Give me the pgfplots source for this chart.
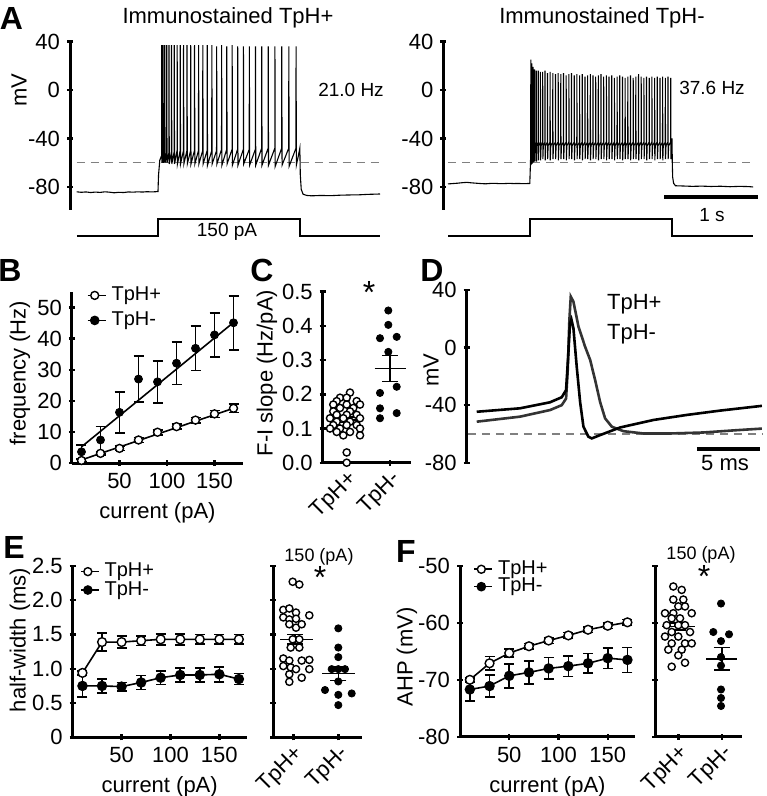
\documentclass[border=0pt]{standalone}
\usepackage{fontspec}
\setmainfont{Liberation Sans}
\usepackage{pgfplots}
\pgfplotsset{compat=1.18}
\newcommand{\fs}[1]{\fontsize{#1}{#1}\selectfont}
\pgfplotsset{
  panel/.style={
    scale only axis, clip=false, anchor=south west,
    major tick style={black, line width=1.2pt},
    major tick length=3pt, tick align=outside,
    tick label style={font=\fs{11}},
    label style={font=\fs{11}},
    /pgf/number format/assume math mode=true,
  },
  na/.style={axis line style={-, line width=1.5pt}},
  errb/.style={error bars/.cd, y dir=both, y explicit,
    error bar style={line width=0.8pt, black},
    error mark options={rotate=90, line width=0.8pt, mark size=2.5pt, black}},
  semb/.style={error bars/.cd, y dir=both, y explicit,
    error bar style={line width=0.8pt, black},
    error mark options={rotate=90, line width=0.8pt, mark size=4pt, black}},
  opn/.style={only marks, mark=*, mark size=1.8pt, mark options={fill=white, draw=black, line width=0.7pt}},
  fil/.style={only marks, mark=*, mark size=1.8pt, mark options={fill=black, draw=black}},
  lgd/.style={legend style={draw=none, fill=none, font=\fs{10}, anchor=north west, inner sep=0pt,
      nodes={text height=6.5pt, text depth=1.5pt, inner sep=0.5pt}, cells={anchor=west},
      /tikz/every odd column/.append style={column sep=2pt}},
    legend image code/.code={\draw[##1] (0pt,0pt) -- (9pt,0pt); \draw[##1, only marks] plot coordinates {(3.5pt,0pt)};}},
}
\begin{document}
\begin{tikzpicture}
\useasboundingbox (0,0) rectangle (383pt,-398pt);

% ---------- A left: TpH+ train ----------
\begin{axis}[panel, at={(35pt,-105pt)}, width=155pt, height=84.25pt,
  axis x line=none, axis y line=left,
  xmin=-0.07, xmax=3.228, ymin=-99, ymax=40,
  ytick={-80,-40,0,40}, na]
\addplot[gray, line width=0.6pt, dash pattern=on 4pt off 3pt] coordinates {(0,-60)(3.228,-60)};
\addplot[black, line width=0.55pt] coordinates {
(0,-84)(0.05,-84.4)(0.1,-84.1)(0.15,-84.6)(0.2,-84.2)(0.25,-84.5)(0.3,-84.0)(0.35,-84.3)(0.4,-84.8)(0.45,-84.4)
(0.5,-84.6)(0.55,-84.1)(0.6,-84.3)(0.65,-84.0)(0.7,-84.2)(0.75,-83.9)(0.8,-84.1)(0.866,-83.8)
(0.872,-70)(0.885,-58)(0.9,-55)
(0.905,-54)(0.906,37)(0.909,-60)
(0.919,-54)(0.920,37)(0.923,-60)
(0.937,-53)(0.938,37)(0.941,-60)
(0.958,-52)(0.959,37)(0.962,-60)
(0.982,-52)(0.983,37)(0.986,-61)
(1.009,-51)(1.010,37)(1.013,-61)
(1.038,-51)(1.039,37)(1.042,-61)
(1.069,-50)(1.070,37)(1.073,-61)
(1.102,-50)(1.103,37)(1.106,-61)
(1.137,-50)(1.138,37)(1.141,-61)
(1.174,-50)(1.175,37)(1.178,-61)
(1.213,-50)(1.214,37)(1.217,-61)
(1.254,-50)(1.255,37)(1.258,-61)
(1.297,-50)(1.298,37)(1.301,-61)
(1.342,-50)(1.343,37)(1.346,-61)
(1.389,-50)(1.390,37)(1.393,-62)
(1.438,-50)(1.439,37)(1.442,-61)
(1.489,-50)(1.490,36)(1.493,-61)
(1.542,-49)(1.543,37)(1.546,-62)
(1.597,-49)(1.598,36)(1.601,-61)
(1.654,-49)(1.655,37)(1.658,-62)
(1.713,-49)(1.714,36)(1.717,-62)
(1.774,-49)(1.775,36)(1.778,-61)
(1.837,-49)(1.838,36)(1.841,-62)
(1.902,-49)(1.903,36)(1.906,-62)
(1.969,-48)(1.970,36)(1.973,-62)
(2.038,-48)(2.039,36)(2.042,-62)
(2.109,-48)(2.110,36)(2.113,-63)
(2.182,-48)(2.183,36)(2.186,-62)
(2.257,-48)(2.258,36)(2.261,-63)
(2.334,-48)(2.335,36)(2.338,-62)
(2.36,-54)(2.375,-48)(2.38,-70)(2.39,-82)(2.41,-86)(2.45,-87)(2.5,-87.3)(2.6,-87)(2.7,-87.2)(2.8,-86.8)
(2.9,-86.6)(3.0,-86.5)(3.1,-86.1)(3.228,-85.8)};
\addplot[black, line width=0.8pt] coordinates {(0.004,-120.4)(0.866,-120.4)(0.866,-106.4)(2.377,-106.4)(2.377,-120.4)(3.228,-120.4)};
\end{axis}

% ---------- A right: TpH- train ----------
\begin{axis}[panel, at={(221.65pt,-105pt)}, width=157.45pt, height=84.25pt,
  axis x line=none, axis y line=left,
  xmin=-0.05, xmax=3.3, ymin=-99, ymax=40,
  ytick={-80,-40,0,40}, na]
\addplot[gray, line width=0.6pt, dash pattern=on 4pt off 3pt] coordinates {(0,-60)(3.27,-60)};
\addplot[black, line width=0.55pt] coordinates {
(0,-77.5)(0.05,-77.2)(0.1,-76.9)(0.15,-76.5)(0.2,-76.2)(0.25,-76.6)(0.3,-76.9)(0.35,-77.2)(0.4,-77.4)(0.45,-77.1)
(0.5,-77.0)(0.55,-77.3)(0.6,-77.2)(0.65,-77.0)(0.7,-77.2)(0.75,-77.1)(0.8,-77.3)(0.87,-77.1)(0.874,-68)(0.878,-58)
(0.880,-50)(0.881,25)(0.883,-62)(0.888,-50)
(0.890,-46)(0.891,22)(0.893,-61)(0.898,-49)
(0.903,-45)(0.904,19)(0.906,-60)(0.911,-48)
(0.919,-44)(0.920,17)(0.922,-59)(0.927,-47)
(0.938,-43)(0.939,16)(0.941,-59)(0.946,-46)
(0.959,-43)(0.960,16)(0.962,-58)(0.967,-46)
(0.982,-43)(0.983,15)(0.985,-58)(0.990,-46)
(1.006,-43)(1.007,15)(1.009,-57)(1.014,-46)
(1.031,-43)(1.032,16)(1.034,-58)(1.039,-46)
(1.057,-43)(1.058,14)(1.060,-57)(1.065,-46)
(1.085,-43)(1.086,15)(1.088,-58)(1.093,-46)
(1.114,-43)(1.115,14)(1.117,-57)(1.122,-46)
(1.142,-43)(1.143,13)(1.145,-57)(1.150,-46)
(1.171,-43)(1.172,14)(1.174,-58)(1.179,-46)
(1.199,-43)(1.200,13)(1.202,-57)(1.207,-46)
(1.228,-43)(1.229,14)(1.231,-57)(1.236,-46)
(1.256,-43)(1.257,12)(1.259,-58)(1.264,-46)
(1.285,-43)(1.286,13)(1.288,-57)(1.293,-46)
(1.313,-43)(1.314,14)(1.316,-57)(1.321,-46)
(1.342,-43)(1.343,12)(1.345,-58)(1.350,-46)
(1.370,-43)(1.371,13)(1.373,-57)(1.378,-46)
(1.399,-43)(1.400,12)(1.402,-57)(1.407,-46)
(1.427,-43)(1.428,13)(1.430,-58)(1.435,-46)
(1.456,-43)(1.457,11)(1.459,-57)(1.464,-46)
(1.484,-43)(1.485,12)(1.487,-57)(1.492,-46)
(1.513,-43)(1.514,13)(1.516,-58)(1.521,-46)
(1.541,-43)(1.542,12)(1.544,-57)(1.549,-46)
(1.570,-43)(1.571,11)(1.573,-57)(1.578,-46)
(1.598,-43)(1.599,12)(1.601,-58)(1.606,-46)
(1.627,-43)(1.628,13)(1.630,-57)(1.635,-46)
(1.655,-43)(1.656,11)(1.658,-57)(1.663,-46)
(1.684,-43)(1.685,12)(1.687,-58)(1.692,-46)
(1.712,-43)(1.713,11)(1.715,-57)(1.720,-46)
(1.741,-43)(1.742,12)(1.744,-57)(1.749,-46)
(1.769,-43)(1.770,10)(1.772,-58)(1.777,-46)
(1.798,-43)(1.799,11)(1.801,-57)(1.806,-46)
(1.826,-43)(1.827,12)(1.829,-57)(1.834,-46)
(1.855,-43)(1.856,11)(1.858,-58)(1.863,-46)
(1.883,-43)(1.884,10)(1.886,-57)(1.891,-46)
(1.912,-43)(1.913,11)(1.915,-57)(1.920,-46)
(1.940,-43)(1.941,12)(1.943,-58)(1.948,-46)
(1.969,-43)(1.970,10)(1.972,-57)(1.977,-46)
(1.997,-43)(1.998,11)(2.000,-57)(2.005,-46)
(2.026,-43)(2.027,13)(2.029,-58)(2.034,-46)
(2.054,-43)(2.055,11)(2.057,-57)(2.062,-46)
(2.083,-43)(2.084,10)(2.086,-57)(2.091,-46)
(2.111,-43)(2.112,11)(2.114,-58)(2.119,-46)
(2.140,-43)(2.141,10)(2.143,-57)(2.148,-46)
(2.168,-43)(2.169,11)(2.171,-57)(2.176,-46)
(2.197,-43)(2.198,10)(2.200,-58)(2.205,-46)
(2.225,-43)(2.226,11)(2.228,-57)(2.233,-46)
(2.254,-43)(2.255,10)(2.257,-57)(2.262,-46)
(2.282,-43)(2.283,11)(2.285,-58)(2.290,-46)
(2.311,-43)(2.312,10)(2.314,-57)(2.319,-46)
(2.339,-43)(2.340,11)(2.342,-57)(2.347,-46)
(2.368,-43)(2.369,10)(2.371,-57)(2.376,-44)
(2.383,-40)(2.386,-60)(2.39,-72)(2.40,-77)(2.42,-79)(2.5,-79.2)(2.6,-79.5)(2.7,-79.3)(2.8,-79.6)(2.9,-79.4)
(3.0,-79.8)(3.1,-79.5)(3.2,-79.7)(3.245,-80)};
\addplot[black, line width=0.8pt] coordinates {(0,-120.4)(0.872,-120.4)(0.872,-106.4)(2.383,-106.4)(2.383,-120.4)(3.245,-120.4)};
\addplot[black, line width=2pt] coordinates {(2.298,-88.2)(3.298,-88.2)};
\end{axis}

% ---------- B ----------
\begin{axis}[panel, lgd, at={(36pt,-231.5pt)}, width=85.5pt, height=85.5pt,
  axis lines=left, xmin=0, xmax=180, ymin=0, ymax=55,
  xtick={50,100,150}, ytick={0,10,20,30,40,50},
  xlabel={current (pA)},
  legend style={at={(0.085,1.035)}, row sep=3.5pt}, na]
\addlegendimage{black, line width=0.8pt, mark=*, mark size=2pt, mark options={fill=white, line width=0.7pt}}
\addlegendentry{TpH+}
\addlegendimage{black, line width=0.8pt, mark=*, mark size=2pt, mark options={fill=black}}
\addlegendentry{TpH-}
\addplot[black, line width=0.8pt, forget plot] coordinates {(10,1.0)(170,17.6)};
\addplot[black, line width=0.8pt, forget plot] coordinates {(10,5.2)(170,45.2)};
\addplot[black, only marks, mark=*, mark size=2pt, forget plot, errb] coordinates {
(10,3.6) +- (0,2.2) (30,7.4) +- (0,4.3) (50,16.3) +- (0,6.6) (70,27.0) +- (0,7.4) (90,26.1) +- (0,6.8)
(110,32.1) +- (0,6.9) (130,36.9) +- (0,7.1) (150,41.2) +- (0,7.1) (170,45.1) +- (0,8.7)};
\addplot[black, only marks, mark=*, mark size=2pt, mark options={fill=white, line width=0.7pt}, forget plot, errb] coordinates {
(10,0.8) +- (0,0.5) (30,3.1) +- (0,0.6) (50,4.7) +- (0,0.7) (70,7.4) +- (0,0.8) (90,9.9) +- (0,0.8)
(110,11.7) +- (0,0.8) (130,13.8) +- (0,0.9) (150,15.8) +- (0,1.1) (170,17.6) +- (0,1.3)};
\end{axis}

% ---------- C ----------
\begin{axis}[panel, at={(161.35pt,-231.35pt)}, width=44pt, height=85.5pt,
  axis lines=left, xmin=0, xmax=88, ymin=0, ymax=0.5,
  xtick={24,67.3}, xticklabels={TpH+,TpH-},
  xticklabel style={rotate=45, anchor=north east, inner sep=1pt},
  ytick={0,0.1,0.2,0.3,0.4,0.5}, yticklabels={0.0,0.1,0.2,0.3,0.4,0.5}, na]
\addplot[opn] coordinates {
(27.3,0.205)(17.3,0.19)(24,0.19)(34,0.18)(14,0.18)(10.6,0.17)(24,0.17)(37.3,0.17)(17.3,0.16)(30.6,0.16)
(10.6,0.15)(27.3,0.15)(14,0.14)(24,0.14)(34,0.14)(7.3,0.13)(20.6,0.13)(37.3,0.13)(14,0.12)(27.3,0.12)
(10.6,0.11)(24,0.11)(34,0.11)(7.3,0.10)(17.3,0.10)(37.3,0.10)(14,0.09)(27.3,0.09)(20.6,0.08)(37.3,0.08)
(24,0.03)(24,0.0)};
\addplot[fil] coordinates {
(65.6,0.445)(65.6,0.403)(57.3,0.364)(74,0.368)(65.6,0.324)(74,0.222)(57.3,0.204)(57.3,0.159)(74,0.145)(57.3,0.130)};
\addplot[black, line width=0.8pt] coordinates {(8,0.125)(40,0.125)};
\addplot[black, mark=none, semb] coordinates {(24,0.125) +- (0,0.008)};
\addplot[black, line width=0.8pt] coordinates {(52,0.275)(83,0.275)};
\addplot[black, mark=none, semb] coordinates {(67.3,0.275) +- (0,0.038)};
\end{axis}

% ---------- D ----------
\begin{axis}[panel, at={(233.35pt,-231.35pt)}, width=147.6pt, height=86.35pt,
  axis x line=none, axis y line=left,
  xmin=-0.79, xmax=22.5, ymin=-80, ymax=40,
  ytick={-80,-40,0,40}, na]
\addplot[gray, line width=0.6pt, dash pattern=on 4pt off 3pt] coordinates {(-0.7,-60)(22.6,-60)};
\addplot[black!80, line width=1.3pt] coordinates {
(0,-51.5)(3.42,-48.0)(5.79,-43.4)(6.71,-40.0)(7.05,-35.4)(7.18,-15.6)(7.31,19.2)(7.42,35.4)(7.63,31.9)(8.03,14.5)
(8.55,0.6)(8.95,-8.6)(9.34,-22.5)(9.74,-38.0)(10.13,-49.2)(10.66,-55.0)(11.58,-58.1)(13.16,-59.7)(15.26,-59.7)
(17.89,-59.0)(20.52,-57.4)(22.5,-56.3)};
\addplot[black, line width=1.3pt] coordinates {
(0,-44.6)(3.42,-42.2)(5.79,-38.0)(6.71,-34.5)(7.05,-29.5)(7.23,-4.0)(7.36,16.8)(7.47,19.6)(7.63,13.4)(7.89,-13.3)
(8.16,-38.0)(8.42,-55.0)(8.81,-61.9)(9.08,-63.1)(9.74,-60.8)(11.32,-55.5)(13.95,-50.3)(16.58,-46.8)(19.2,-43.8)(22.5,-40.5)};
\addplot[black, line width=1.8pt] coordinates {(17.36,-70.5)(22.36,-70.5)};
\end{axis}

% ---------- E left ----------
\begin{axis}[panel, lgd, at={(36.35pt,-368.65pt)}, width=87pt, height=85.65pt,
  axis lines=left, xmin=0, xmax=178, ymin=0, ymax=2.5,
  xtick={50,100,150}, ytick={0,0.5,1,1.5,2,2.5}, yticklabels={0,0.5,1.0,1.5,2.0,2.5},
  xlabel={current (pA)},
  legend style={at={(0.04,1.022)}, row sep=0.2pt}, na]
\addlegendimage{black, line width=0.8pt, mark=*, mark size=2pt, mark options={fill=white, line width=0.7pt}}
\addlegendentry{TpH+}
\addlegendimage{black, line width=0.8pt, mark=*, mark size=2pt, mark options={fill=black}}
\addlegendentry{TpH-}
\addplot[black, line width=0.8pt, mark=*, mark size=2.2pt, forget plot, errb] coordinates {
(10,0.75) +- (0,0.16) (30,0.75) +- (0,0.10) (50,0.74) +- (0,0.06) (70,0.80) +- (0,0.10) (90,0.87) +- (0,0.10)
(110,0.91) +- (0,0.10) (130,0.91) +- (0,0.10) (150,0.92) +- (0,0.11) (170,0.85) +- (0,0.08)};
\addplot[black, line width=0.8pt, mark=*, mark size=2.2pt, mark options={fill=white, line width=0.7pt}, forget plot, errb] coordinates {
(10,0.94) +- (0,0.03) (30,1.39) +- (0,0.13) (50,1.39) +- (0,0.09) (70,1.41) +- (0,0.07) (90,1.43) +- (0,0.08)
(110,1.43) +- (0,0.08) (130,1.43) +- (0,0.07) (150,1.43) +- (0,0.07) (170,1.43) +- (0,0.07)};
\end{axis}

% ---------- E right ----------
\begin{axis}[panel, at={(136.65pt,-368.65pt)}, width=44.2pt, height=85.65pt,
  axis lines=left, xmin=0, xmax=88.4, ymin=0, ymax=2.5,
  xtick={20,65}, xticklabels={TpH+,TpH-},
  xticklabel style={rotate=45, anchor=north east, inner sep=1pt},
  ytick={0,0.5,1,1.5,2,2.5}, yticklabels={}, na]
\addplot[opn] coordinates {
(19.4,2.27)(26,2.23)(10,1.86)(16,1.88)(22.7,1.82)(36,1.78)(10,1.75)(16,1.72)(22.7,1.73)(16,1.65)
(22.7,1.60)(28.4,1.65)(19.4,1.43)(26,1.43)(17.4,1.31)(26,1.31)(10,1.15)(16,1.12)(28.4,1.12)(36,1.13)
(10,1.04)(17.4,1.02)(22.7,0.995)(36,0.995)(16,0.92)(28.4,0.87)(16,0.81)};
\addplot[fil] coordinates {
(65,1.59)(65,1.31)(65,1.17)(58.4,0.995)(65,0.995)(71.7,0.995)(65,0.815)(51.7,0.69)(78.4,0.64)(65,0.62)(65,0.47)};
\addplot[black, line width=0.8pt] coordinates {(6.7,1.43)(40,1.43)};
\addplot[black, mark=none, semb] coordinates {(21.7,1.43) +- (0,0.07)};
\addplot[black, line width=0.8pt] coordinates {(49,0.93)(82,0.93)};
\addplot[black, mark=none, semb] coordinates {(65,0.93) +- (0,0.10)};
\end{axis}

% ---------- F left ----------
\begin{axis}[panel, lgd, at={(230pt,-368.35pt)}, width=87.5pt, height=85.35pt,
  axis lines=left, xmin=0, xmax=177.7, ymin=-80, ymax=-50,
  xtick={50,100,150}, ytick={-80,-70,-60,-50},
  xlabel={current (pA)},
  legend style={at={(0.075,1.036)}, row sep=-0.3pt}, na]
\addlegendimage{black, line width=0.8pt, mark=*, mark size=2pt, mark options={fill=white, line width=0.7pt}}
\addlegendentry{TpH+}
\addlegendimage{black, line width=0.8pt, mark=*, mark size=2pt, mark options={fill=black}}
\addlegendentry{TpH-}
\addplot[black, line width=0.8pt, mark=*, mark size=2.2pt, forget plot, errb] coordinates {
(10,-71.7) +- (0,2.0) (30,-71.1) +- (0,1.9) (50,-69.3) +- (0,2.1) (70,-68.7) +- (0,2.0) (90,-68.0) +- (0,1.9)
(110,-67.6) +- (0,1.8) (130,-67.1) +- (0,1.7) (150,-66.2) +- (0,1.8) (170,-66.5) +- (0,2.2)};
\addplot[black, line width=0.8pt, mark=*, mark size=2.2pt, mark options={fill=white, line width=0.7pt}, forget plot, errb] coordinates {
(10,-70.0) +- (0,0.4) (30,-67.1) +- (0,1.2) (50,-65.3) +- (0,0.7) (70,-64.1) +- (0,0.5) (90,-63.1) +- (0,0.5)
(110,-62.2) +- (0,0.5) (130,-61.2) +- (0,0.5) (150,-60.5) +- (0,0.5) (170,-59.9) +- (0,0.5)};
\end{axis}

% ---------- F right ----------
\begin{axis}[panel, at={(327.5pt,-368.35pt)}, width=43.35pt, height=85.35pt,
  axis lines=left, xmin=0, xmax=86.7, ymin=-80, ymax=-50,
  xtick={23.3,66.7}, xticklabels={TpH+,TpH-},
  xticklabel style={rotate=45, anchor=north east, inner sep=1pt},
  ytick={-80,-70,-60,-50}, yticklabels={}, na]
\addplot[opn] coordinates {
(18.3,-53.6)(26.7,-54.2)(18.3,-55.9)(28.3,-55.9)(23.3,-57.1)(30,-57.1)(10,-58.3)(18.3,-58.3)(36.7,-58.3)(16.7,-59.2)
(25,-59.2)(11.7,-60.4)(23.3,-60.4)(30,-60.4)(16.7,-61.6)(35,-61.6)(10,-62.4)(23.3,-62.4)(16.7,-63.6)(30,-63.6)
(36.7,-63.6)(13.3,-64.7)(26.7,-64.7)(23.3,-65.7)(30,-67.0)(16.7,-67.7)};
\addplot[fil] coordinates {
(66,-56.6)(58.3,-61.6)(74,-62.0)(66,-63.2)(66,-66.0)(66,-67.5)(66,-71.7)(66,-73.2)(66,-74.6)};
\addplot[black, line width=0.8pt] coordinates {(7,-60.6)(40,-60.6)};
\addplot[black, mark=none, semb] coordinates {(23.3,-60.6) +- (0,0.6)};
\addplot[black, line width=0.8pt] coordinates {(51,-66.3)(82,-66.3)};
\addplot[black, mark=none, semb] coordinates {(66.7,-66.3) +- (0,2.0)};
\end{axis}

% ---------- text ----------
\begin{scope}[x=0.5pt, y=-0.5pt]
\node[font=\fs{16}\bfseries] at (11.5,18.3) {A};
\node[font=\fs{16}\bfseries] at (10,270) {B};
\node[font=\fs{16}\bfseries] at (262,270) {C};
\node[font=\fs{16}\bfseries] at (432,270) {D};
\node[font=\fs{16}\bfseries] at (14,547) {E};
\node[font=\fs{16}\bfseries] at (406,551) {F};
\node[font=\fs{11}] at (228,18) {Immunostained TpH+};
\node[font=\fs{11}] at (602,18) {Immunostained TpH-};
\node[font=\fs{11}, rotate=90] at (19,90) {mV};
\node[font=\fs{11}, rotate=90] at (20,373) {frequency (Hz)};
\node[font=\fs{11}, rotate=90] at (267,373) {F-I slope (Hz/pA)};
\node[font=\fs{11}, rotate=90] at (431,370) {mV};
\node[font=\fs{11}, rotate=90] at (20,640) {half-width (ms)};
\node[font=\fs{11}, rotate=90] at (407,657) {AHP (mV)};
\node[font=\fs{9.5}] at (351,90) {21.0 Hz};
\node[font=\fs{9.5}] at (712,88) {37.6 Hz};
\node[font=\fs{9.5}] at (227,232) {150 pA};
\node[font=\fs{9.5}] at (712,215) {1 s};
\node[font=\fs{11}, anchor=west] at (600,304) {TpH+};
\node[font=\fs{11}, anchor=west] at (600,334) {TpH-};
\node[font=\fs{11}] at (725,463) {5 ms};
\node[font=\fs{16}] at (369,292) {*};
\node[font=\fs{16}] at (320,577) {*};
\node[font=\fs{16}] at (704,576) {*};
\node[font=\fs{9}] at (319,556.7) {150 (pA)};
\node[font=\fs{9}] at (701,555) {150 (pA)};
\end{scope}
\end{tikzpicture}
\end{document}
